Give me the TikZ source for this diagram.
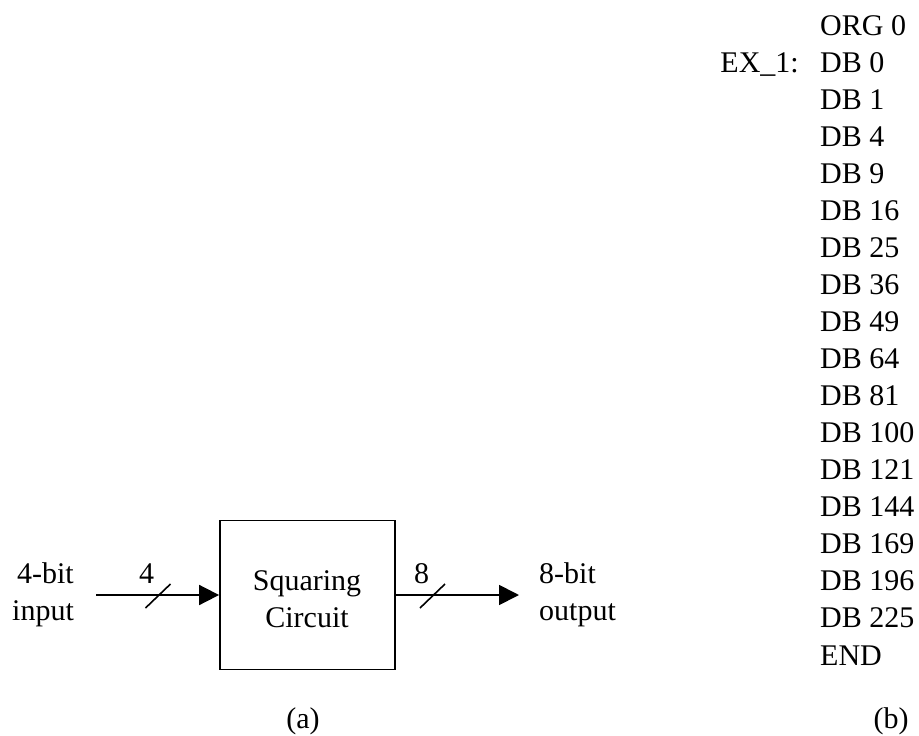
\documentclass[tikz,border=0pt]{standalone}
\usepackage{fontspec}
\setmainfont{Liberation Serif}
\usetikzlibrary{arrows.meta}
\begin{document}
\begin{tikzpicture}[x=1pt,y=-1pt,
  txt/.style={inner sep=0pt,font=\fontsize{30}{36.5}\selectfont},
  wire/.style={line width=1.8pt,-{Triangle[length=20pt,width=20pt]}},
  bus/.style={line width=1.6pt},
  block/.style={draw,line width=1.8pt,minimum width=175pt,minimum height=149pt,
    inner sep=0pt}]
  \useasboundingbox (0,0) rectangle (919,736);

  % (a) squaring circuit block
  \node[block] (sq) at (307.5,595) {};
  \node[txt,anchor=base] (sqA) at (307,590) {Squaring};
  \node[txt,anchor=base] (sqB) at (307,627) {Circuit};
  \coordinate (in) at (96,595);
  \coordinate (out) at (519,595);
  \draw[wire] (in) -- (sq.west);
  \draw[wire] (sq.east) -- (out);

  % bus width marks
  \coordinate (s1) at (158,596);
  \coordinate (s2) at (432.5,596);
  \draw[bus] ([shift={(-12.5,12)}]s1) -- ([shift={(12.5,-12)}]s1);
  \draw[bus] ([shift={(-12.5,12)}]s2) -- ([shift={(12.5,-12)}]s2);
  \node[txt,anchor=base] (n4) at (146.7,583.5) {4};
  \node[txt,anchor=base] (n8) at (421.7,583.5) {8};

  \node[txt,anchor=base] (inA) at (45.5,583.5) {4-bit};
  \node[txt,anchor=base] (inB) at (43,620) {input};
  \node[txt,anchor=base west] (outA) at (539,583.5) {8-bit};
  \node[txt,anchor=base west] (outB) at (539,620) {output};

  \node[txt,anchor=base] (capa) at (303,728) {(a)};

  % (b) lookup table listing
  \foreach \t [count=\k from 0] in {ORG 0,DB 0,DB 1,DB 4,DB 9,DB 16,DB 25,DB 36,
      DB 49,DB 64,DB 81,DB 100,DB 121,DB 144,DB 169,DB 196,DB 225,END}
    \node[txt,anchor=base west] (row\k) at (820,35+37.06*\k) {\t};
  \node[txt,anchor=base east] (lbl) at ([xshift=-21pt]row1.base west) {EX\_1:};

  \node[txt,anchor=base] (capb) at (891,728) {(b)};
\end{tikzpicture}
\end{document}
